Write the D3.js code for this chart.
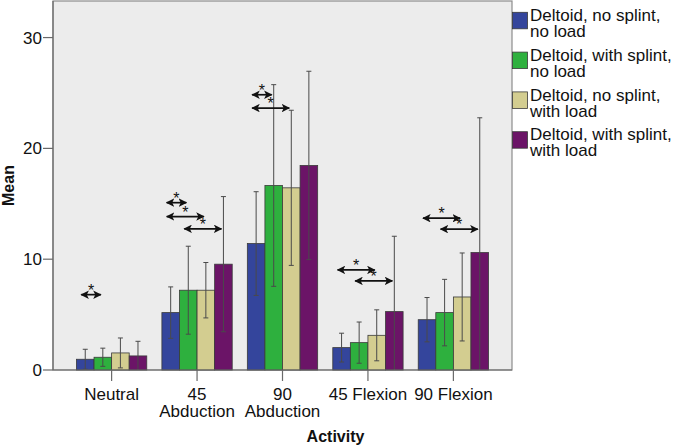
<!DOCTYPE html>
<html>
<head>
<meta charset="utf-8">
<script src="https://cdn.jsdelivr.net/npm/d3@7"></script>
<style>
  body { margin: 0; background: #fff; }
  svg text { font-family: "Liberation Sans", Arial, sans-serif; fill: #111; }
</style>
</head>
<body>
<div id="chart"></div>
<script>
// category labels (multi-line where the original wraps)
const categories = ["Neutral", "45 Abduction", "90 Abduction", "45 Flexion", "90 Flexion"];
const categoryLines = [["Neutral"], ["45", "Abduction"], ["90", "Abduction"], ["45 Flexion"], ["90 Flexion"]];

const seriesNames = [
    ["Deltoid, no splint,", "no load"],
    ["Deltoid, with splint,", "no load"],
    ["Deltoid, no splint,", "with load"],
    ["Deltoid, with splint,", "with load"]
];
const seriesColors = ["#34459c", "#2eb03e", "#d3cd90", "#6b1467"];

// means per series, one value per category
const meanNoSplintNoLoad = [0.97, 5.18, 11.41, 2.02, 4.54];
const meanSplintNoLoad = [1.15, 7.2, 16.65, 2.47, 5.18];
const meanNoSplintLoad = [1.54, 7.2, 16.44, 3.13, 6.59];
const meanSplintLoad = [1.27, 9.55, 18.46, 5.27, 10.6];

// error bar half widths
const errNoSplintNoLoad = [0.9, 2.32, 4.68, 1.3, 2.0];
const errSplintNoLoad = [0.82, 3.97, 9.1, 1.86, 3.0];
const errNoSplintLoad = [1.35, 2.5, 7.0, 2.3, 3.97];
const errSplintLoad = [1.32, 6.1, 8.5, 6.8, 12.16];

const yTicks = [0, 10, 20, 30];

// significance arrows: category index, from series, to series, level
const sigCategory = [0, 1, 1, 1, 2, 2, 3, 3, 4, 4];
const sigFrom = [0, 0, 0, 1, 0, 0, 0, 1, 0, 1];
const sigTo = [1, 1, 2, 3, 1, 2, 2, 3, 2, 3];
const sigLevel = [6.8, 15.1, 13.85, 12.74, 24.84, 23.64, 9.03, 8.04, 13.7, 12.71];

const means = [meanNoSplintNoLoad, meanSplintNoLoad, meanNoSplintLoad, meanSplintLoad];
const errs = [errNoSplintNoLoad, errSplintNoLoad, errNoSplintLoad, errSplintLoad];

const width = 674, height = 447;
const plot = { left: 53, right: 512, top: 1, bottom: 370 };

const svg = d3.select("#chart").append("svg")
    .attr("width", width)
    .attr("height", height);

const defs = svg.append("defs");
defs.append("marker")
    .attr("id", "head")
    .attr("viewBox", "0 0 10 10")
    .attr("refX", 9).attr("refY", 5)
    .attr("markerWidth", 5).attr("markerHeight", 5)
    .attr("markerUnits", "strokeWidth")
    .attr("orient", "auto-start-reverse")
    .append("path")
    .attr("d", "M0,0 L10,5 L0,10 L2.5,5 Z")
    .attr("fill", "#111");

const x = d3.scaleBand()
    .domain(categories)
    .range([plot.left, plot.right])
    .paddingOuter(0.186)
    .paddingInner(0);

const groupWidth = x.bandwidth() * 0.823;
const xSub = d3.scaleBand()
    .domain(d3.range(means.length))
    .range([0, groupWidth]);

const y = d3.scaleLinear()
    .domain([0, 33.3])
    .range([plot.bottom, plot.top]);

// plot background
svg.append("rect")
    .attr("x", plot.left).attr("y", plot.top)
    .attr("width", plot.right - plot.left)
    .attr("height", plot.bottom - plot.top)
    .attr("fill", "#ececec")
    .attr("stroke", "#8c8c8c")
    .attr("stroke-width", 1.2);

const barX = (ci, si) => x(categories[ci]) + (x.bandwidth() - groupWidth) / 2 + xSub(si);
const barCenter = (ci, si) => barX(ci, si) + xSub.bandwidth() / 2;

// bars
means.forEach((vals, si) => {
    svg.append("g")
        .selectAll("rect")
        .data(vals)
        .join("rect")
        .attr("x", (d, ci) => barX(ci, si))
        .attr("y", d => y(d))
        .attr("width", xSub.bandwidth())
        .attr("height", d => y(0) - y(d))
        .attr("fill", seriesColors[si])
        .attr("stroke", "#3a3a3a")
        .attr("stroke-width", 0.8);
});

// error bars
const errG = svg.append("g").attr("stroke", "#4a4a4a").attr("stroke-width", 1);
means.forEach((vals, si) => {
    vals.forEach((m, ci) => {
        const cx = barCenter(ci, si);
        const hi = m + errs[si][ci];
        const lo = Math.max(0, m - errs[si][ci]);
        errG.append("line")
            .attr("x1", cx).attr("x2", cx)
            .attr("y1", y(hi)).attr("y2", y(lo));
        errG.append("line")
            .attr("x1", cx - 2.5).attr("x2", cx + 2.5)
            .attr("y1", y(hi)).attr("y2", y(hi));
        if (m - errs[si][ci] > 0) {
            errG.append("line")
                .attr("x1", cx - 2.5).attr("x2", cx + 2.5)
                .attr("y1", y(lo)).attr("y2", y(lo));
        }
    });
});

// significance arrows
const sigG = svg.append("g");
sigLevel.forEach((lvl, i) => {
    const x1 = barCenter(sigCategory[i], sigFrom[i]) - 4;
    const x2 = barCenter(sigCategory[i], sigTo[i]) - 2;
    sigG.append("line")
        .attr("x1", x1).attr("x2", x2)
        .attr("y1", y(lvl)).attr("y2", y(lvl))
        .attr("stroke", "#111")
        .attr("stroke-width", 1.7)
        .attr("marker-start", "url(#head)")
        .attr("marker-end", "url(#head)");
    sigG.append("text")
        .attr("x", (x1 + x2) / 2)
        .attr("y", y(lvl) + 1)
        .attr("text-anchor", "middle")
        .style("font-size", "16px")
        .text("*");
});

// y axis
const yAxis = svg.append("g");
yAxis.append("line")
    .attr("x1", plot.left).attr("x2", plot.left)
    .attr("y1", plot.top).attr("y2", plot.bottom)
    .attr("stroke", "#6a6a6a").attr("stroke-width", 1.2);
yTicks.forEach(t => {
    yAxis.append("line")
        .attr("x1", plot.left - 10).attr("x2", plot.left)
        .attr("y1", y(t)).attr("y2", y(t))
        .attr("stroke", "#6a6a6a").attr("stroke-width", 1.2);
    yAxis.append("text")
        .attr("x", plot.left - 11)
        .attr("y", y(t))
        .attr("dy", "0.36em")
        .attr("text-anchor", "end")
        .style("font-size", "17px")
        .text(t);
});

// x axis ticks and labels
const xAxis = svg.append("g");
xAxis.append("line")
    .attr("x1", plot.left).attr("x2", plot.right)
    .attr("y1", plot.bottom).attr("y2", plot.bottom)
    .attr("stroke", "#6a6a6a").attr("stroke-width", 1.2);
categories.forEach((c, ci) => {
    const cx = x(c) + x.bandwidth() / 2;
    xAxis.append("line")
        .attr("x1", cx).attr("x2", cx)
        .attr("y1", plot.bottom).attr("y2", plot.bottom + 11)
        .attr("stroke", "#6a6a6a").attr("stroke-width", 1.2);
    categoryLines[ci].forEach((ln, li) => {
        xAxis.append("text")
            .attr("x", cx)
            .attr("y", 400 + li * 16.7)
            .attr("text-anchor", "middle")
            .style("font-size", "17px")
            .text(ln);
    });
});

// axis titles
svg.append("text")
    .attr("x", (plot.left + plot.right) / 2 + 53)
    .attr("y", 442)
    .attr("text-anchor", "middle")
    .style("font-size", "16px")
    .style("font-weight", "bold")
    .text("Activity");

svg.append("text")
    .attr("transform", `translate(14,${(plot.top + plot.bottom) / 2}) rotate(-90)`)
    .attr("text-anchor", "middle")
    .style("font-size", "16px")
    .style("font-weight", "bold")
    .text("Mean");

// legend
const legend = svg.append("g").attr("transform", "translate(512.5,12.3)");
seriesNames.forEach((lines, si) => {
    const g = legend.append("g").attr("transform", `translate(0,${si * 39.8})`);
    g.append("rect")
        .attr("width", 15).attr("height", 16.5)
        .attr("fill", seriesColors[si])
        .attr("stroke", "#3a3a3a")
        .attr("stroke-width", 0.8);
    lines.forEach((ln, li) => {
        g.append("text")
            .attr("x", 17.5)
            .attr("y", 8.7 + li * 16)
            .style("font-size", "17px")
            .text(ln);
    });
});
</script>
</body>
</html>
